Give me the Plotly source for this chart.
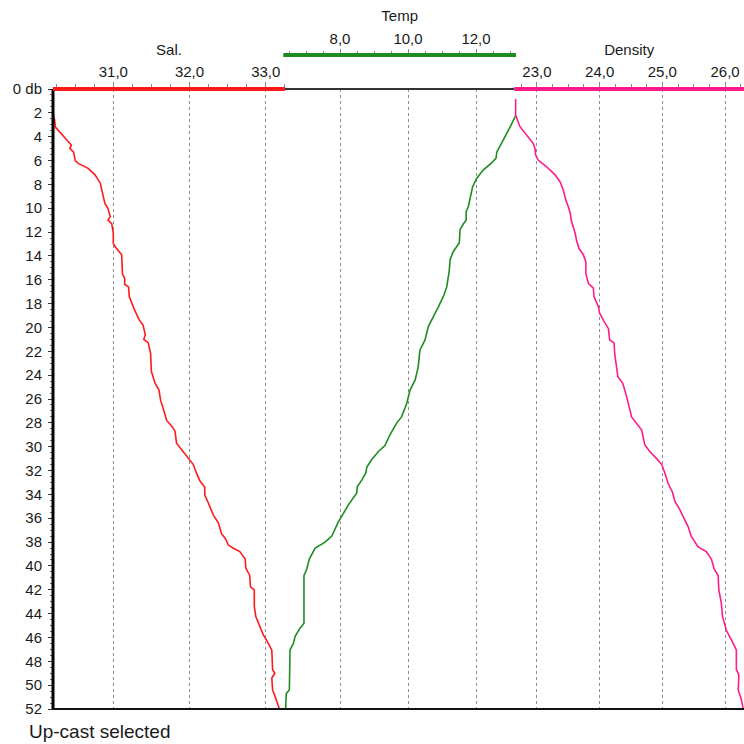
import plotly.graph_objects as go

# ---------------- data ----------------
sal_depth = [0.84, 2.0, 2.6, 3.2, 4.7, 5.0, 5.3, 6.0, 6.24, 6.66, 7.2, 7.9, 8.5, 9.6, 10.0, 10.7, 11.0, 11.3,
             12.1, 12.95, 13.2, 13.9, 15.5, 15.9, 16.4, 16.6, 17.4, 18.4, 19.37, 19.8, 20.6, 21.0, 21.3, 22.2,
             23.7, 24.7, 25.25, 26.1, 26.9, 27.8, 28.3, 28.7, 29.7, 30.1, 30.7, 31.1, 31.5, 32.2, 32.9, 33.4,
             34.05, 34.76, 35.7, 36.4, 37.3, 37.7, 38.25, 38.5, 38.8, 39.4, 40.2, 40.8, 41.75, 42.0, 43.4,
             44.25, 45.1, 45.8, 46.2, 47.06, 48.7, 49.0, 49.4, 50.4, 50.9, 52.0]
sal_value = [30.21, 30.21, 30.23, 30.24, 30.45, 30.43, 30.48, 30.50, 30.54, 30.67, 30.76, 30.83, 30.85, 30.89,
             30.93, 30.96, 30.93, 30.98, 31.00, 31.00, 31.02, 31.11, 31.12, 31.15, 31.15, 31.20, 31.21, 31.27,
             31.34, 31.39, 31.42, 31.40, 31.46, 31.49, 31.50, 31.55, 31.60, 31.62, 31.66, 31.70, 31.77, 31.81,
             31.83, 31.88, 31.96, 32.01, 32.05, 32.09, 32.14, 32.20, 32.20, 32.25, 32.31, 32.38, 32.42, 32.47,
             32.51, 32.57, 32.66, 32.73, 32.74, 32.79, 32.80, 32.85, 32.85, 32.87, 32.92, 32.97, 33.01, 33.08,
             33.09, 33.12, 33.08, 33.09, 33.12, 33.18]

temp_depth = [0.84, 2.2, 3.2, 4.3, 5.0, 5.3, 5.8, 6.2, 6.8, 7.5, 8.2, 9.2, 9.9, 10.3, 11.0, 11.3, 11.8, 12.9,
              13.65, 14.3, 15.3, 16.6, 17.4, 18.3, 19.1, 19.9, 21.05, 21.9, 23.3, 24.4, 25.25, 26.4, 27.5, 28.0,
              29.0, 29.9, 30.4, 31.1, 31.7, 32.2, 32.8, 33.35, 33.9, 34.3, 34.9, 35.6, 36.3, 37.5, 38.0, 38.5,
              39.2, 39.4, 40.3, 40.8, 44.8, 45.2, 45.9, 46.5, 47.05, 50.4, 50.7, 52.0]
temp_value = [13.17, 13.17, 13.00, 12.80, 12.66, 12.61, 12.59, 12.46, 12.21, 12.02, 11.90, 11.82, 11.77, 11.71,
              11.71, 11.63, 11.53, 11.51, 11.33, 11.24, 11.21, 11.14, 11.04, 10.89, 10.74, 10.60, 10.50, 10.35,
              10.30, 10.21, 10.06, 9.96, 9.81, 9.67, 9.47, 9.32, 9.13, 8.93, 8.79, 8.76, 8.64, 8.51, 8.49, 8.39,
              8.24, 8.10, 7.95, 7.76, 7.56, 7.27, 7.12, 7.10, 7.02, 6.94, 6.94, 6.83, 6.68, 6.63, 6.53, 6.51,
              6.42, 6.40]

dens_depth = [0.84, 2.18, 3.16, 4.0, 4.56, 5.0, 5.54, 5.96, 6.5, 7.2, 7.8, 8.47, 9.3, 9.87, 10.4, 11.1, 12.1,
              12.66, 13.36, 13.9, 14.5, 15.46, 16.3, 16.7, 17.4, 18.26, 18.8, 19.4, 20.1, 21.05, 21.3, 22.2,
              24.1, 24.7, 25.8, 27.5, 28.04, 28.6, 29.86, 30.4, 31.0, 31.5, 32.2, 33.07, 33.8, 34.6, 35.2, 36.0,
              36.7, 37.5, 38.4, 38.8, 39.4, 40.3, 40.8, 42.0, 43.1, 44.25, 45.4, 46.5, 47.05, 48.7, 49.15, 50.4,
              51.2, 52.0]
dens_value = [22.66, 22.66, 22.73, 22.86, 22.94, 22.97, 22.98, 23.02, 23.15, 23.29, 23.37, 23.42, 23.46, 23.50,
              23.53, 23.55, 23.61, 23.63, 23.67, 23.74, 23.78, 23.78, 23.82, 23.90, 23.91, 23.98, 24.00, 24.06,
              24.14, 24.16, 24.23, 24.24, 24.29, 24.37, 24.43, 24.51, 24.59, 24.67, 24.72, 24.80, 24.91, 24.99,
              25.04, 25.09, 25.16, 25.20, 25.27, 25.34, 25.41, 25.46, 25.57, 25.70, 25.78, 25.83, 25.89, 25.90,
              25.94, 25.96, 26.02, 26.13, 26.18, 26.18, 26.22, 26.21, 26.26, 26.29]

depth_ticks = list(range(0, 53, 2))
depth_ticktext = ["0 db"] + [str(d) for d in depth_ticks[1:]]

# ---------------- figure ----------------
FONT = "Liberation Sans, Arial, sans-serif"
RED = "#ff1a1a"
GREEN = "#1e8c1e"
PINK = "#ff1a8c"
TXT = "#1a1a1a"

fig = go.Figure()
fig.add_trace(go.Scatter(x=sal_value, y=sal_depth, mode="lines", xaxis="x", yaxis="y",
                         line=dict(color=RED, width=1.6), name="Sal."))
fig.add_trace(go.Scatter(x=temp_value, y=temp_depth, mode="lines", xaxis="x2", yaxis="y",
                         line=dict(color=GREEN, width=1.6), name="Temp"))
fig.add_trace(go.Scatter(x=dens_value, y=dens_depth, mode="lines", xaxis="x3", yaxis="y",
                         line=dict(color=PINK, width=1.6), name="Density"))

L, R, T, B = 53, 0, 55, 35
W = H = 744
pw = W - L - R
ph = H - T - B
ytop = (H - B - 89) / ph


def px(xpix):
    return (xpix - L) / pw


common = dict(side="top", showline=False, ticks="outside", ticklen=6, tickwidth=1,
              tickcolor="#888888", tickformat=".1f", showgrid=True, gridcolor="#8c8c8c",
              griddash="dot", gridwidth=1, zeroline=False, ticklabelstandoff=-1,
              tickfont=dict(family=FONT, size=15, color=TXT),
              title_font=dict(family=FONT, size=15, color=TXT), title_standoff=3)

fig.update_layout(
    width=W, height=H, autosize=False,
    margin=dict(l=L, r=R, t=T, b=B, pad=0),
    paper_bgcolor="white", plot_bgcolor="white",
    separators=",.",
    showlegend=False,
    font=dict(family=FONT, size=15, color=TXT),
    yaxis=dict(domain=[0, ytop], range=[52, 0], anchor="free", position=0,
               tickmode="array", tickvals=depth_ticks, ticktext=depth_ticktext,
               ticks="outside", ticklen=5, tickwidth=1, tickcolor="#333333",
               showgrid=False, zeroline=False, showline=False,
               ticklabelstandoff=3,
               minor=dict(tickmode="linear", tick0=0, dtick=0.5, ticks="outside", ticklen=3,
                          tickcolor="#666666", showgrid=False),
               tickfont=dict(family=FONT, size=15, color=TXT)),
    xaxis=dict(domain=[0, px(285)], range=[30.209, 33.253], anchor="y",
               tick0=0, dtick=1, title_text="Sal.",
               minor=dict(tick0=0, dtick=0.25, ticks="outside", ticklen=4, tickcolor="#888888",
                          showgrid=False),
               **common),
    xaxis2=dict(domain=[px(283.3), px(516)], range=[6.332, 13.176], anchor="free", position=1,
                tick0=0, dtick=2, title_text="Temp",
                minor=dict(tick0=0, dtick=0.5, ticks="outside", ticklen=4, tickcolor="#888888",
                           showgrid=False),
                **common),
    xaxis3=dict(domain=[px(514.3), 1], range=[22.639, 26.302], anchor="y",
                tick0=0, dtick=1, title_text="Density",
                minor=dict(tick0=0, dtick=0.25, ticks="outside", ticklen=4, tickcolor="#888888",
                           showgrid=False),
                **common),
)

# frame lines
fig.add_shape(type="line", xref="paper", yref="paper", x0=0, x1=0, y0=0, y1=ytop,
              line=dict(color="black", width=3))
fig.add_shape(type="line", xref="paper", yref="paper", x0=0, x1=1, y0=0, y1=0,
              line=dict(color="#111111", width=2))
fig.add_shape(type="line", xref="paper", yref="paper", x0=px(285), x1=px(514.3), y0=ytop, y1=ytop,
              line=dict(color="#333333", width=2))
# coloured axis bars
fig.add_shape(type="line", xref="paper", yref="paper", x0=0, x1=px(285), y0=ytop, y1=ytop,
              line=dict(color=RED, width=4))
fig.add_shape(type="line", xref="paper", yref="paper", x0=px(514.3), x1=1, y0=ytop, y1=ytop,
              line=dict(color=PINK, width=4))
fig.add_shape(type="line", xref="paper", yref="paper", x0=px(283.3), x1=px(516), y0=1, y1=1,
              line=dict(color=GREEN, width=4))

fig.add_annotation(text="Up-cast selected", xref="paper", yref="paper",
                   x=(27 - L) / pw, y=(H - B - 731) / ph,
                   xanchor="left", yanchor="middle", showarrow=False,
                   font=dict(family=FONT, size=19, color=TXT))

fig.write_html("out.html")
